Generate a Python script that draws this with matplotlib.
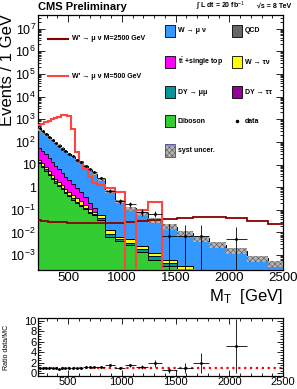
import numpy as np
import matplotlib
matplotlib.use("Agg")
import matplotlib.pyplot as plt
from matplotlib.patches import Rectangle
from matplotlib.lines import Line2D
from matplotlib.ticker import FixedLocator, FuncFormatter, MultipleLocator, LogLocator, NullFormatter

plt.rcParams['font.family'] = ['Liberation Sans', 'DejaVu Sans']
plt.rcParams['mathtext.fontset'] = 'custom'
plt.rcParams['mathtext.rm'] = 'Liberation Sans'
plt.rcParams['mathtext.bf'] = 'Liberation Sans:bold'
plt.rcParams['mathtext.it'] = 'Liberation Sans:italic'
plt.rcParams['hatch.linewidth'] = 0.4

# M_T bin edges [GeV]
edges = [220, 250, 280, 310, 340, 370, 400, 430, 460, 490, 524, 564, 600, 640, 685,
         725, 766, 843, 936, 1029, 1132, 1243, 1374, 1513, 1662, 1811, 1969, 2164,
         2360, 2500]

# backgrounds, events / GeV
diboson = [11.2, 7.94, 5.25, 3.55, 2.4, 1.58, 1.12, 0.794, 0.562, 0.398, 0.282, 0.2,
           0.148, 0.105, 0.0724, 0.0562, 0.0355, 0.0063, 0.004, 0.0028, 0.0014,
           0.00063, 0.00032, 0.0002, 0, 0, 0, 0, 0]
dy_mumu = [1.4, 0.97, 0.78, 0.43, 0.23, 0.2, 0.14, 0.097, 0.069, 0.049, 0.034, 0.024,
           0.018, 0.015, 0.011, 0.0069, 0.0062, 0.0026, 0.001, 0.00075, 0.00038,
           0.00026, 0.00013, 0.00005, 0, 0, 0, 0, 0]
dy_tautau = [0] * 29
w_taunu = [3.2, 2.3, 1.91, 1.27, 0.92, 0.62, 0.4, 0.31, 0.24, 0.184, 0.131, 0.092,
           0.074, 0.046, 0.029, 0.0163, 0.0145, 0.0037, 0.0013, 0.00145, 0.0007,
           0.00037, 0.00018, 0.00007, 0, 0, 0, 0, 0]
ttbar = [40.4, 28.6, 20.2, 14.7, 9.6, 6.5, 4.37, 2.97, 2.01, 1.37, 0.87, 0.575,
         0.363, 0.189, 0.097, 0.041, 0, 0, 0, 0, 0, 0, 0, 0, 0, 0, 0, 0, 0]
w_munu = [298.6, 242, 185.6, 138.5, 107, 82.3, 63.2, 48.3, 36.9, 27.5, 20.6, 15.3,
          11.4, 8.16, 5.54, 3.86, 2.18, 0.618, 0.234, 0.11, 0.0665, 0.0342, 0.0172,
          0.0088, 0.0055, 0.0028, 0.00158, 0.00072, 0.00044]
qcd = [0] * 29
syst_rel = [0.12] * 17 + [0.15, 0.18, 0.2, 0.22, 0.24, 0.26, 0.28, 0.3, 0.3, 0.3,
                          0.3, 0.3]

# signals, events / GeV
wprime_500 = [540, 630, 740, 850, 1000, 1150, 1300, 1480, 1480, 1450, 360, 36, 13,
              6.2, 2.8, 1.6, 1.2, 0.9, 0.63, 0, 0.1, 0.22, 0, 0, 0, 0, 0, 0, 0]
wprime_2500 = [0.035, 0.031, 0.032, 0.03, 0.03, 0.029, 0.03, 0.028, 0.028, 0.027,
               0.027, 0.026, 0.026, 0.026, 0.025, 0.025, 0.026, 0.026, 0.027, 0.029,
               0.032, 0.036, 0.04, 0.044, 0.046, 0.046, 0.044, 0.031, 0.023]

# data, events per bin
data_counts = [11940, 9060, 6570, 4750, 3520, 2610, 1940, 1500, 1190, 1027, 916, 598,
               504, 401, 252, 196, 193, 66, 22, 18, 9, 9, 1, 1, 1, 0, 1, 0, 0]
# data / MC as drawn in lower pad
ratio = [1.1, 1.05, 1.0, 1.0, 0.95, 0.95, 0.9, 0.95, 1.0, 1.05, 1.05, 1.0, 1.1, 1.15,
         1.2, 1.25, 1.3, 1.6, 1.0, 1.5, 1.25, 1.9, 0.55, 1.0, 1.9, np.nan, 5.2,
         np.nan, np.nan]

W, H = 297, 389
YMIN, YMAX = 2.2e-4, 4e7

edges_a = np.array(edges, float)
widths = np.diff(edges_a)
centers = 0.5 * (edges_a[1:] + edges_a[:-1])

fig = plt.figure(figsize=(W / 100, H / 100), dpi=100)


def fx(px):
    return px / W


def fy(py):
    return 1 - py / H


ax = fig.add_axes([fx(38), fy(270), fx(283) - fx(38), fy(15) - fy(270)])
rax = fig.add_axes([fx(38), fy(376), fx(283) - fx(38), fy(318) - fy(376)])

# stacked backgrounds (bottom to top)
stack = [
    (diboson, "#33cc33"),
    (dy_tautau, "#990099"),
    (dy_mumu, "#009999"),
    (w_taunu, "#ffff00"),
    (ttbar, "#ff00ff"),
    (w_munu, "#3399ff"),
    (qcd, "#666666"),
]
cum = np.zeros(len(centers))
levels = []
for vals, col in stack:
    cum = cum + np.array(vals, float)
    levels.append((cum.copy(), col))
for top, col in reversed(levels):
    ax.stairs(np.maximum(top, 1e-9), edges_a, baseline=1e-9, fill=True,
              color=col, zorder=2)
for top, col in reversed(levels):
    ax.stairs(np.maximum(top, 1e-9), edges_a, baseline=1e-9, fill=False,
              color="black", lw=0.6, zorder=3)

total = cum
srel = np.array(syst_rel)
lo = np.append(total * (1 - srel), total[-1] * (1 - srel[-1]))
hi = np.append(total * (1 + srel), total[-1] * (1 + srel[-1]))
ax.fill_between(edges_a, lo, hi, step="post", facecolor="#b4b4b4",
                edgecolor="#555555", hatch="xxxxxx", linewidth=0, zorder=4)

ax.stairs(np.maximum(np.array(wprime_2500), YMIN), edges_a, color="#880000",
          lw=1.3, baseline=None, zorder=5)
ax.stairs(np.maximum(np.array(wprime_500, float), YMIN * 1.02), edges_a,
          color="#ff4444", lw=1.5, baseline=None, zorder=5)

# data
n = np.array(data_counts, float)
sel = n > 0
dens = n / widths
err_lo = np.sqrt(n) / widths
err_hi = np.where(n == 1, 2.3, np.sqrt(n)) / widths
err_lo = np.where(n == 1, dens - YMIN * 0.5, err_lo)
ax.errorbar(centers[sel], dens[sel], xerr=widths[sel] / 2,
            yerr=[err_lo[sel], err_hi[sel]], fmt="o", ms=1.1, color="black",
            ecolor="black", elinewidth=0.6, capsize=0, zorder=6)

ax.set_yscale("log")
ax.set_xlim(220, 2500)
ax.set_ylim(YMIN, YMAX)


def log_label(v, pos):
    e = int(round(np.log10(v)))
    if e == 0:
        return "1"
    if e == 1:
        return "10"
    return r"$10^{%d}$" % e


ax.yaxis.set_major_locator(FixedLocator([10.0 ** e for e in range(-3, 8)]))
ax.yaxis.set_major_formatter(FuncFormatter(log_label))
ax.yaxis.set_minor_locator(LogLocator(base=10, subs=np.arange(2, 10), numticks=30))
ax.yaxis.set_minor_formatter(NullFormatter())
ax.xaxis.set_major_locator(MultipleLocator(500))
ax.xaxis.set_minor_locator(MultipleLocator(100))
for a in (ax, rax):
    a.tick_params(which="both", direction="in", top=True, right=True,
                  width=0.6, labelsize=9, pad=1.5)
    a.tick_params(which="major", length=5)
    a.tick_params(which="minor", length=2.5)
    for sp in a.spines.values():
        sp.set_linewidth(0.9)
ax.tick_params(axis="x", labelsize=9.5)

# ratio pad
rax.axhline(1.0, color="red", ls=":", lw=1.6, zorder=1)
rt = np.array(ratio)
rsel = ~np.isnan(rt)
rerr = np.zeros_like(rt)
rerr[rsel] = rt[rsel] / np.sqrt(n[rsel])
rax.errorbar(centers[rsel], rt[rsel], xerr=widths[rsel] / 2, yerr=rerr[rsel],
             fmt="o", ms=1.1, color="black", elinewidth=0.6, capsize=0, zorder=3)
rax.set_xlim(220, 2500)
rax.set_ylim(-0.5, 10.5)
rax.yaxis.set_major_locator(MultipleLocator(2))
rax.yaxis.set_minor_locator(MultipleLocator(0.5))
rax.xaxis.set_major_locator(MultipleLocator(500))
rax.xaxis.set_minor_locator(MultipleLocator(100))
rax.tick_params(which="both", labelsize=8, pad=1)
rax.tick_params(which="major", length=4)
rax.tick_params(which="minor", length=2)

# labels
fig.text(fx(8), fy(14), "Events / 1 GeV", rotation=90, ha="center", va="top",
         fontsize=12)
fig.text(fx(283), fy(297), r"M$_{\rm T}$  [GeV]", ha="right", va="center",
         fontsize=12)
fig.text(fx(7), fy(347), "Ratio data/MC", rotation=90, ha="center", va="center",
         fontsize=5)
fig.text(fx(38), fy(7), "CMS Preliminary", ha="left", va="center", fontsize=8,
         fontweight="bold")
fig.text(fx(196), fy(6), "∫ L dt = 20 fb$^{-1}$", ha="left", va="center",
         fontsize=5, fontweight="bold")
fig.text(fx(257), fy(6), "√s = 8 TeV", ha="left", va="center", fontsize=5,
         fontweight="bold")

# signal legend
for py, col, lab in [(39, "#880000", "W' → μ ν M=2500 GeV"),
                     (76, "#ff4444", "W' → μ ν M=500 GeV")]:
    fig.add_artist(Line2D([fx(48), fx(68)], [fy(py), fy(py)], color=col,
                          lw=1.5, transform=fig.transFigure))
    fig.text(fx(72), fy(py), lab, ha="left", va="center", fontsize=5,
             fontweight="bold")

# background legend
entries = [
    (165, 31, "#3399ff", "W → μ ν"),
    (165, 62, "#ff00ff", r"t$\bar{\rm t}$ +single top"),
    (165, 92, "#009999", "DY → μμ"),
    (165, 121, "#33cc33", "Diboson"),
    (232, 31, "#666666", "QCD"),
    (232, 62, "#ffff00", "W → τν"),
    (232, 92, "#990099", "DY → ττ"),
]
for px, py, col, lab in entries:
    fig.add_artist(Rectangle((fx(px), fy(py + 6)), fx(10), 12 / H,
                             facecolor=col, edgecolor="black", lw=0.6,
                             transform=fig.transFigure))
    fig.text(fx(px + 13), fy(py), lab, ha="left", va="center", fontsize=5,
             fontweight="bold")
fig.add_artist(Rectangle((fx(165), fy(157)), fx(10), 13 / H, facecolor="#b4b4b4",
                         edgecolor="#555555", hatch="xxxxxx", lw=0,
                         transform=fig.transFigure))
fig.add_artist(Rectangle((fx(165), fy(157)), fx(10), 13 / H, facecolor="none",
                         edgecolor="#5555aa", lw=0.7, transform=fig.transFigure))
fig.text(fx(178), fy(150), "syst uncer.", ha="left", va="center", fontsize=5,
         fontweight="bold")
fig.add_artist(Line2D([fx(237)], [fy(121)], marker="o", ms=1.5, color="black",
                      transform=fig.transFigure))
fig.text(fx(245), fy(121), "data", ha="left", va="center", fontsize=5,
         fontweight="bold")

fig.savefig("out.png", dpi=100)
